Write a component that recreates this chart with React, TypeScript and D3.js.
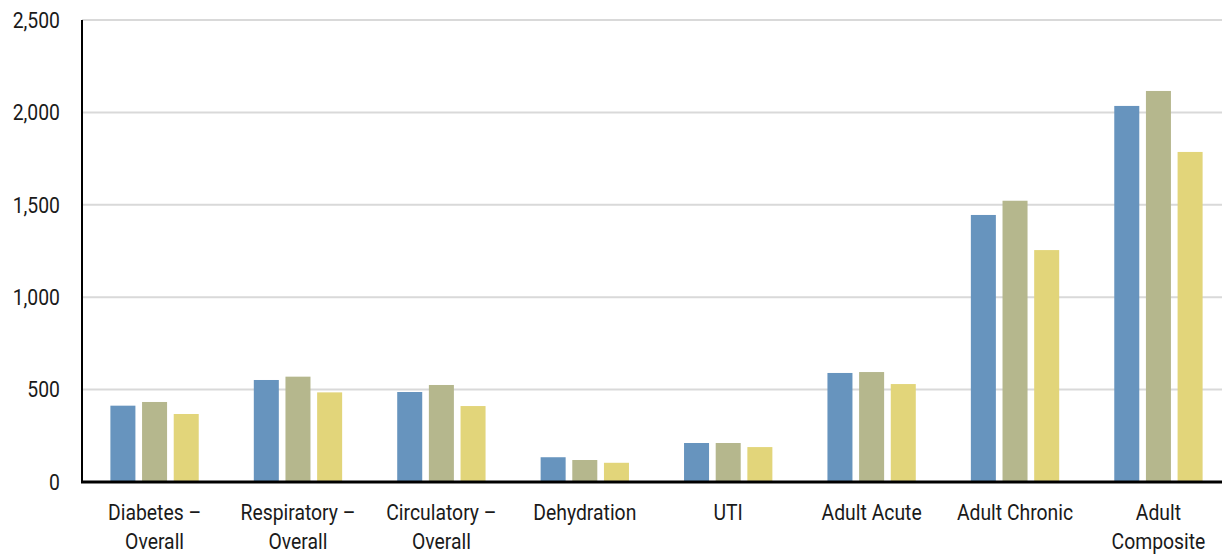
import { useEffect, useRef } from 'react'
import * as d3 from 'd3'

const categories = [
  ['Diabetes –', 'Overall'],
  ['Respiratory –', 'Overall'],
  ['Circulatory –', 'Overall'],
  ['Dehydration'],
  ['UTI'],
  ['Adult Acute'],
  ['Adult Chronic'],
  ['Adult', 'Composite'],
]

const seriesA = [413, 552, 487, 134, 211, 590, 1445, 2035]
const seriesB = [433, 570, 525, 119, 211, 595, 1522, 2116]
const seriesC = [368, 485, 411, 104, 189, 530, 1255, 1786]

const yTicks = [0, 500, 1000, 1500, 2000, 2500]
const colors = ['#6794BE', '#B5B78D', '#E2D57A']

const width = 1222
const height = 554
const margin = { top: 20, right: 0, bottom: 72, left: 82 }

export default function App() {
  const svgRef = useRef<SVGSVGElement>(null)

  useEffect(() => {
    if (!svgRef.current) return
    const svg = d3.select(svgRef.current)
    svg.selectAll('*').remove()

    const innerWidth = width - margin.left - margin.right
    const innerHeight = height - margin.top - margin.bottom

    const series = [seriesA, seriesB, seriesC]

    // the band range runs a little past the right edge, as in the original
    const x = d3.scaleBand<number>()
      .domain(d3.range(categories.length))
      .range([0, 1149])
      .paddingInner(0.384)
      .paddingOuter(0.198)

    const x1 = d3.scaleBand<number>()
      .domain([0, 1, 2])
      .range([0, x.bandwidth()])
      .paddingInner(0.21)

    const y = d3.scaleLinear().domain([0, 2500]).range([innerHeight, 0])

    const g = svg.append('g').attr('transform', `translate(${margin.left},${margin.top})`)

    g.selectAll('.grid')
      .data(yTicks.filter(t => t > 0))
      .enter().append('line')
      .attr('x1', 0)
      .attr('x2', innerWidth)
      .attr('y1', d => y(d))
      .attr('y2', d => y(d))
      .attr('stroke', '#d9d9d9')
      .attr('stroke-width', 2)

    series.forEach((vals, si) => {
      g.selectAll(`.bar${si}`)
        .data(vals)
        .enter().append('rect')
        .attr('x', (_, i) => (x(i) || 0) + (x1(si) || 0))
        .attr('y', d => y(d))
        .attr('width', x1.bandwidth())
        .attr('height', d => innerHeight - y(d))
        .attr('fill', colors[si])
    })

    g.append('line')
      .attr('x1', 0).attr('x2', 0)
      .attr('y1', 0).attr('y2', innerHeight)
      .attr('stroke', '#000').attr('stroke-width', 2)

    g.append('line')
      .attr('x1', -1).attr('x2', innerWidth)
      .attr('y1', innerHeight).attr('y2', innerHeight)
      .attr('stroke', '#000').attr('stroke-width', 3)

    const font = 'Roboto, sans-serif'

    g.selectAll('.ytick')
      .data(yTicks)
      .enter().append('text')
      .attr('transform', d => `translate(-22,${y(d)}) scale(0.88,1)`)
      .attr('dy', '0.35em')
      .attr('text-anchor', 'end')
      .attr('font-family', font)
      .attr('font-size', 22)
      .attr('fill', '#1a1a1a')
      .text(d => d3.format(',')(d))

    categories.forEach((lines, i) => {
      const cx = (x(i) || 0) + x.bandwidth() / 2
      lines.forEach((line, li) => {
        g.append('text')
          .attr('transform', `translate(${cx},${innerHeight + 38 + li * 29}) scale(0.88,1)`)
          .attr('text-anchor', 'middle')
          .attr('font-family', font)
          .attr('font-size', 22)
          .attr('fill', '#1a1a1a')
          .text(line)
      })
    })
  }, [])

  return (
    <div style={{ position: 'absolute', left: 0, top: 0 }}>
      <svg ref={svgRef} width={width} height={height} />
    </div>
  )
}
